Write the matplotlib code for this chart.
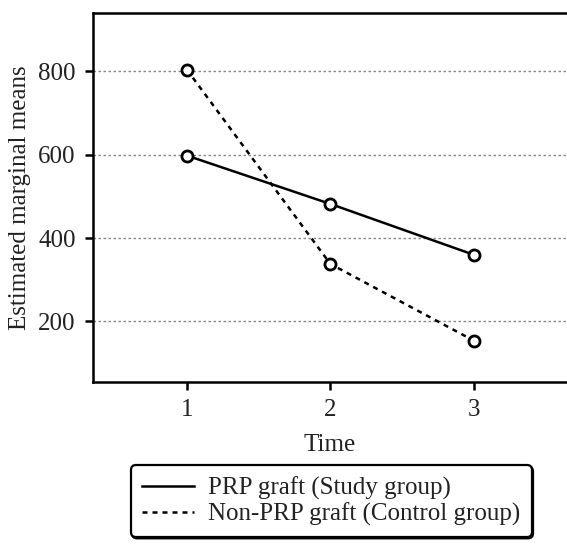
import matplotlib
matplotlib.use('Agg')
import matplotlib.pyplot as plt

plt.rcParams['font.family'] = ['Liberation Serif', 'DejaVu Serif']

time = [1, 2, 3]
prp = [598, 482, 360]
non_prp = [804, 338, 154]
labels = ['PRP graft (Study group)', 'Non-PRP graft (Control group)']
yticks = [200, 400, 600, 800]

fig = plt.figure(figsize=(5.67, 5.44), dpi=100)
ax = fig.add_axes([0.164, 0.298, 0.836, 0.678])

ax.plot(time, prp, '-', color='black', lw=1.8, marker='o', ms=8,
        mfc='white', mec='black', mew=2, label=labels[0], zorder=3)
ax.plot(time, non_prp, color='black', lw=1.8, ls=(0, (2, 2)), marker='o', ms=8,
        mfc='white', mec='black', mew=2, label=labels[1], zorder=3)

ax.set_xlim(0.345, 3.65)
ax.set_ylim(55, 940)
ax.set_xticks(time)
ax.set_yticks(yticks)
ax.grid(axis='y', color='#888888', ls=(0, (1.8, 1.8)), lw=1)
ax.set_axisbelow(True)

for s in ['left', 'top', 'bottom']:
    ax.spines[s].set_linewidth(1.8)
ax.spines['right'].set_visible(False)
ax.tick_params(direction='out', length=5.5, width=1.8, labelsize=18, pad=7,
               labelcolor='#222222')

ax.set_xlabel('Time', fontsize=18, labelpad=9, color='#222222')
ax.set_ylabel('Estimated marginal means', fontsize=18, labelpad=5, color='#222222')

leg = fig.legend(loc='upper center', bbox_to_anchor=(0.584, 0.145), fontsize=18,
                 frameon=True, fancybox=True, handlelength=2.1, handletextpad=0.55,
                 borderpad=0.45, labelspacing=0.1, markerscale=0, borderaxespad=0,
                 shadow={'ox': 1, 'oy': -1, 'color': 'black', 'alpha': 1})
for h in leg.legend_handles:
    h.set_marker('None')
for t in leg.get_texts():
    t.set_color('#222222')
leg.get_frame().set_edgecolor('black')
leg.get_frame().set_linewidth(1.6)
leg.get_frame().set_alpha(1)

fig.savefig('out.png', dpi=100)
